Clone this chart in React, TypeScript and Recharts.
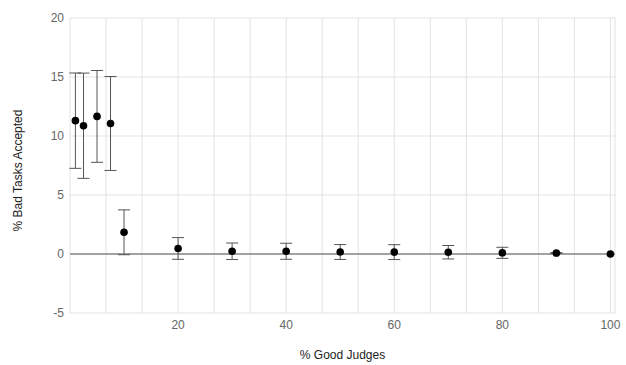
import React from 'react';
import {
  ComposedChart,
  Scatter,
  XAxis,
  YAxis,
  CartesianGrid,
  ErrorBar,
  ReferenceLine,
  Label,
} from 'recharts';

// % of good judges in the pool
const goodJudges = [1, 2.5, 5, 7.5, 10, 20, 30, 40, 50, 60, 70, 80, 90, 100];
// mean % of bad tasks accepted
const badAccepted = [11.3, 10.87, 11.66, 11.06, 1.84, 0.47, 0.23, 0.23, 0.17, 0.16, 0.15, 0.1, 0.08, 0];
// +/- error on each mean
const errors = [4.04, 4.46, 3.89, 3.98, 1.9, 0.92, 0.7, 0.68, 0.63, 0.63, 0.57, 0.47, 0.04, 0];

const xTicks = [20 / 3, 40 / 3, 20, 80 / 3, 100 / 3, 40, 140 / 3, 160 / 3, 60, 200 / 3, 220 / 3, 80, 260 / 3, 280 / 3, 100];
const yTicks = [-5, 0, 5, 10, 15, 20];

const data = goodJudges.map((x, i) => ({ x, y: badAccepted[i], err: errors[i] }));

const FONT = 'Arial, "Liberation Sans", sans-serif';

// vertical axis title, rotated and centred beside the plot
const YTitle = (props: any) => {
  const vb = props.viewBox || {};
  const cx = 18;
  const cy = (vb.y ?? 18) + (vb.height ?? 294) / 2 + 5;
  return (
    <text
      x={cx}
      y={cy}
      transform={`rotate(-90 ${cx} ${cy})`}
      textAnchor="middle"
      dominantBaseline="central"
      fill="#222"
      fontSize={12}
      fontFamily={FONT}
    >
      % Bad Tasks Accepted
    </text>
  );
};

export default function App() {
  return (
    <div style={{ position: 'absolute', left: 0, top: 0, width: 626, height: 365, background: '#fff' }}>
      <ComposedChart
        width={626}
        height={365}
        data={data}
        margin={{ top: 18, right: 11, bottom: 0, left: 0 }}
      >
        <CartesianGrid stroke="#e3e3e3" strokeWidth={1} />
        <XAxis
          type="number"
          dataKey="x"
          domain={[0, 100.85]}
          ticks={xTicks}
          interval={0}
          tickFormatter={(v: number) => {
            const r = Math.round(v);
            return Math.abs(v - r) < 1e-6 && r % 20 === 0 ? String(r) : '';
          }}
          axisLine={false}
          tickLine={false}
          tickSize={5}
          tickMargin={2}
          height={52}
          tick={{ fill: '#666', fontSize: 12, fontFamily: FONT }}
          allowDataOverflow
        >
          <Label
            value="% Good Judges"
            position="insideBottom"
            offset={6}
            style={{ fill: '#222', fontSize: 12, fontFamily: FONT }}
          />
        </XAxis>
        <YAxis
          type="number"
          dataKey="y"
          domain={[-5, 20]}
          ticks={yTicks}
          interval={0}
          axisLine={false}
          tickLine={false}
          tickSize={4}
          tickMargin={2}
          width={70}
          tick={{ fill: '#666', fontSize: 12, fontFamily: FONT }}
          allowDataOverflow
        >
          <Label content={YTitle} />
        </YAxis>
        <ReferenceLine y={0} stroke="#555" strokeWidth={1.2} />
        <Scatter dataKey="y" fill="#000" isAnimationActive={false} shape={(p: any) => (
          <circle cx={p.cx} cy={p.cy} r={3.8} fill="#000" />
        )}>
          <ErrorBar dataKey="err" direction="y" width={6} stroke="#555" strokeWidth={1} />
        </Scatter>
      </ComposedChart>
    </div>
  );
}
